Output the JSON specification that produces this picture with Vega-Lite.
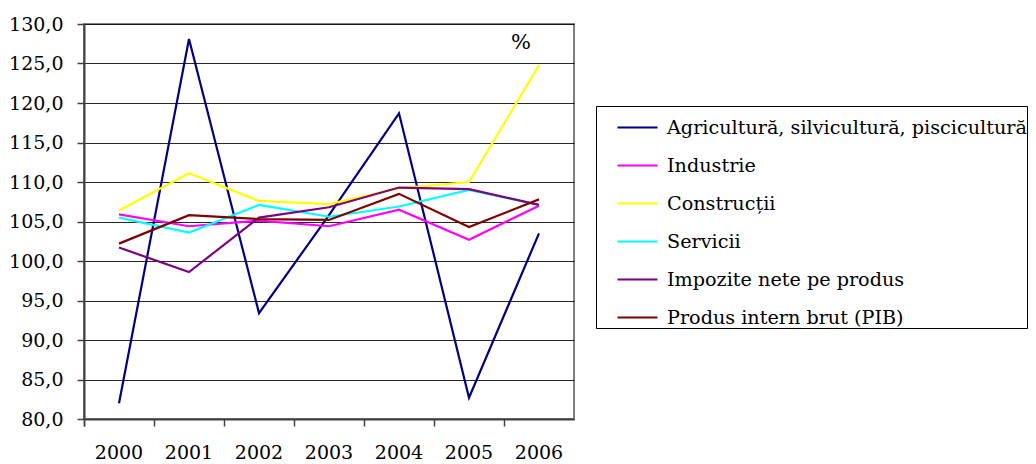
{
  "$schema": "https://vega.github.io/schema/vega-lite/v6.json",
  "width": 490,
  "height": 395,
  "autosize": "none",
  "padding": {"left": 84, "top": 24, "right": 462, "bottom": 45},
  "background": "white",
  "config": {
    "font": "DejaVu Serif",
    "view": {"stroke": "#808080", "strokeWidth": 2},
    "axis": {"labelFont": "DejaVu Serif", "labelFontSize": 19, "labelColor": "#000"},
    "legend": {"labelFont": "DejaVu Serif", "labelFontSize": 19.2, "labelColor": "#000", "strokeColor": "#000", "strokeWidth": 1}
  },
  "data": {
    "values": [
      {"year": "2000", "series": "Agricultură, silvicultură, piscicultură", "value": 82.0},
      {"year": "2001", "series": "Agricultură, silvicultură, piscicultură", "value": 128.1},
      {"year": "2002", "series": "Agricultură, silvicultură, piscicultură", "value": 93.4},
      {"year": "2003", "series": "Agricultură, silvicultură, piscicultură", "value": 105.8},
      {"year": "2004", "series": "Agricultură, silvicultură, piscicultură", "value": 118.7},
      {"year": "2005", "series": "Agricultură, silvicultură, piscicultură", "value": 82.7},
      {"year": "2006", "series": "Agricultură, silvicultură, piscicultură", "value": 103.5},
      {"year": "2000", "series": "Industrie", "value": 105.9},
      {"year": "2001", "series": "Industrie", "value": 104.4},
      {"year": "2002", "series": "Industrie", "value": 105.1},
      {"year": "2003", "series": "Industrie", "value": 104.4},
      {"year": "2004", "series": "Industrie", "value": 106.5},
      {"year": "2005", "series": "Industrie", "value": 102.7},
      {"year": "2006", "series": "Industrie", "value": 107.0},
      {"year": "2000", "series": "Construcții", "value": 106.4},
      {"year": "2001", "series": "Construcții", "value": 111.1},
      {"year": "2002", "series": "Construcții", "value": 107.6},
      {"year": "2003", "series": "Construcții", "value": 107.2},
      {"year": "2004", "series": "Construcții", "value": 109.2},
      {"year": "2005", "series": "Construcții", "value": 110.0},
      {"year": "2006", "series": "Construcții", "value": 124.8},
      {"year": "2000", "series": "Servicii", "value": 105.5},
      {"year": "2001", "series": "Servicii", "value": 103.6},
      {"year": "2002", "series": "Servicii", "value": 107.1},
      {"year": "2003", "series": "Servicii", "value": 105.6},
      {"year": "2004", "series": "Servicii", "value": 106.9},
      {"year": "2005", "series": "Servicii", "value": 109.0},
      {"year": "2006", "series": "Servicii", "value": 107.1},
      {"year": "2000", "series": "Impozite nete pe produs", "value": 101.7},
      {"year": "2001", "series": "Impozite nete pe produs", "value": 98.6},
      {"year": "2002", "series": "Impozite nete pe produs", "value": 105.5},
      {"year": "2003", "series": "Impozite nete pe produs", "value": 106.8},
      {"year": "2004", "series": "Impozite nete pe produs", "value": 109.3},
      {"year": "2005", "series": "Impozite nete pe produs", "value": 109.1},
      {"year": "2006", "series": "Impozite nete pe produs", "value": 107.1},
      {"year": "2000", "series": "Produs intern brut (PIB)", "value": 102.2},
      {"year": "2001", "series": "Produs intern brut (PIB)", "value": 105.8},
      {"year": "2002", "series": "Produs intern brut (PIB)", "value": 105.3},
      {"year": "2003", "series": "Produs intern brut (PIB)", "value": 105.2},
      {"year": "2004", "series": "Produs intern brut (PIB)", "value": 108.5},
      {"year": "2005", "series": "Produs intern brut (PIB)", "value": 104.3},
      {"year": "2006", "series": "Produs intern brut (PIB)", "value": 107.8}
    ]
  },
  "layer": [
    {
      "mark": {"type": "line", "strokeWidth": 2.2},
      "encoding": {
        "x": {
          "field": "year", "type": "ordinal",
          "scale": {"type": "band", "paddingInner": 0, "paddingOuter": 0},
          "axis": {"title": null, "labelAngle": 0, "bandPosition": 0, "tickExtra": true, "grid": false,
                   "domainColor": "#404040", "domainWidth": 2, "tickColor": "#404040", "tickWidth": 1.5, "tickSize": 7, "labelPadding": 17}
        },
        "y": {
          "field": "value", "type": "quantitative",
          "scale": {"domain": [80, 130], "nice": false, "zero": false},
          "axis": {"title": null, "values": [80, 85, 90, 95, 100, 105, 110, 115, 120, 125, 130],
                   "labelExpr": "replace(format(datum.value, '.1f'), '.', ',')", "labelOverlap": false,
                   "grid": true, "gridColor": "#000", "gridWidth": 1, "gridOpacity": 0.85,
                   "domainColor": "#404040", "domainWidth": 2, "tickColor": "#404040", "tickWidth": 1.5, "tickSize": 7, "labelPadding": 14}
        },
        "color": {
          "field": "series", "type": "nominal",
          "scale": {
            "domain": ["Agricultură, silvicultură, piscicultură", "Industrie", "Construcții", "Servicii", "Impozite nete pe produs", "Produs intern brut (PIB)"],
            "range": ["#000080", "#FF00FF", "#FFFF00", "#00FFFF", "#800080", "#800000"]
          },
          "legend": {
            "title": null, "orient": "none", "legendX": 512, "legendY": 82,
            "symbolType": "stroke", "symbolSize": 1600, "symbolStrokeWidth": 2.2,
            "symbolOffset": 20, "labelOffset": 8, "labelLimit": 600,
            "rowPadding": 6, "padding": 0,
            "strokeColor": "#000", "fillColor": "white"
          }
        }
      }
    },
    {
      "data": {"values": [{"year": "2006", "value": 127.6, "label": "%"}]},
      "mark": {"type": "text", "fontSize": 21, "font": "DejaVu Serif", "dx": -18, "color": "#000"},
      "encoding": {
        "x": {
          "field": "year", "type": "ordinal",
          "scale": {"type": "band", "paddingInner": 0, "paddingOuter": 0},
          "axis": {"title": null, "labelAngle": 0, "bandPosition": 0, "tickExtra": true, "grid": false,
                   "domainColor": "#404040", "domainWidth": 2, "tickColor": "#404040", "tickWidth": 1.5, "tickSize": 7, "labelPadding": 17}
        },
        "y": {
          "field": "value", "type": "quantitative",
          "scale": {"domain": [80, 130], "nice": false, "zero": false},
          "axis": {"title": null, "values": [80, 85, 90, 95, 100, 105, 110, 115, 120, 125, 130],
                   "labelExpr": "replace(format(datum.value, '.1f'), '.', ',')", "labelOverlap": false,
                   "grid": true, "gridColor": "#000", "gridWidth": 1, "gridOpacity": 0.85,
                   "domainColor": "#404040", "domainWidth": 2, "tickColor": "#404040", "tickWidth": 1.5, "tickSize": 7, "labelPadding": 14}
        },
        "text": {"field": "label"}
      }
    }
  ]
}
